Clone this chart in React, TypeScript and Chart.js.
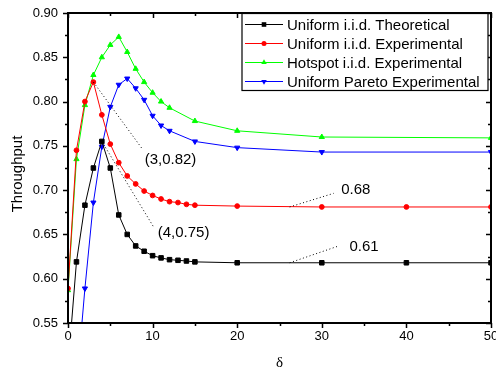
import React, { useEffect, useRef } from "react";
import { Chart, registerables } from "chart.js";

Chart.register(...registerables);

const SANS = "'Liberation Sans', Arial, Helvetica, sans-serif";
const SERIF = "'Liberation Serif', 'DejaVu Serif', serif";

// ---------- data ----------
const seriesNames = [
  "Uniform i.i.d. Theoretical",
  "Uniform i.i.d. Experimental",
  "Hotspot i.i.d. Experimental",
  "Uniform Pareto Experimental",
];
const seriesColors = ["#000000", "#ff0000", "#00ff00", "#0000ff"];
const seriesMarkers = ["square", "circle", "triangle", "invtriangle"];

const deltaFull = [0, 1, 2, 3, 4, 5, 6, 7, 8, 9, 10, 11, 12, 13, 14, 15, 20, 30, 40, 50];
const deltaShort = [0, 1, 2, 3, 4, 5, 6, 7, 8, 9, 10, 11, 12, 15, 20, 30, 50];

const uniformTheoretical = [0.5, 0.619, 0.683, 0.725, 0.755, 0.725, 0.672, 0.65, 0.637, 0.631, 0.626, 0.6235, 0.6215, 0.6208, 0.62, 0.619, 0.618, 0.618, 0.618, 0.618];
const uniformExperimental = [0.589, 0.745, 0.8, 0.822, 0.785, 0.752, 0.731, 0.716, 0.707, 0.699, 0.694, 0.69, 0.687, 0.686, 0.684, 0.683, 0.682, 0.681, 0.681, 0.681];
const hotspotExperimental = [0.587, 0.735, 0.796, 0.83, 0.85, 0.864, 0.873, 0.856, 0.837, 0.822, 0.81, 0.8, 0.793, 0.778, 0.767, 0.76, 0.759];
const paretoExperimental = [0.38, 0.478, 0.589, 0.686, 0.749, 0.794, 0.819, 0.826, 0.815, 0.802, 0.784, 0.773, 0.767, 0.755, 0.748, 0.743, 0.743];

const xTicks = [0, 10, 20, 30, 40, 50];
const yTicks = [0.55, 0.6, 0.65, 0.7, 0.75, 0.8, 0.85, 0.9];

// annotation callouts (data coordinates)
const calloutLabels = ["(3,0.82)", "(4,0.75)", "0.68", "0.61"];
const calloutFrom = [[3, 0.822], [4, 0.755], [26.2, 0.681], [26.2, 0.618]];
const calloutTo = [[8.8, 0.7463], [10.1, 0.6587], [31.4, 0.6964], [32.0, 0.637]];
const calloutText = [[9.06, 0.734], [10.6, 0.6516], [32.3, 0.7], [33.26, 0.6359]];

function drawMarker(ctx: CanvasRenderingContext2D, kind: string, x: number, y: number, color: string) {
  ctx.save();
  ctx.fillStyle = color;
  ctx.strokeStyle = color;
  ctx.lineWidth = 1;
  ctx.beginPath();
  if (kind === "square") {
    ctx.rect(x - 2.3, y - 2.3, 4.6, 4.6);
  } else if (kind === "circle") {
    ctx.arc(x, y, 2.5, 0, Math.PI * 2);
  } else if (kind === "triangle") {
    const r = 3.2;
    ctx.moveTo(x, y - r);
    ctx.lineTo(x + r * 0.866, y + r * 0.5);
    ctx.lineTo(x - r * 0.866, y + r * 0.5);
    ctx.closePath();
  } else {
    const r = 3.2;
    ctx.moveTo(x, y + r);
    ctx.lineTo(x + r * 0.866, y - r * 0.5);
    ctx.lineTo(x - r * 0.866, y - r * 0.5);
    ctx.closePath();
  }
  ctx.fill();
  ctx.restore();
}

const decorPlugin = {
  id: "decor",
  afterDatasetsDraw(chart: any) {
    const ctx: CanvasRenderingContext2D = chart.ctx;
    const { left, right, top, bottom } = chart.chartArea;
    const xs = chart.scales.x;
    const ys = chart.scales.y;
    ctx.save();

    // callouts
    ctx.strokeStyle = "#000";
    ctx.lineWidth = 1;
    ctx.setLineDash([1, 2.5]);
    for (let i = 0; i < calloutLabels.length; i++) {
      ctx.beginPath();
      ctx.moveTo(xs.getPixelForValue(calloutFrom[i][0]), ys.getPixelForValue(calloutFrom[i][1]));
      ctx.lineTo(xs.getPixelForValue(calloutTo[i][0]), ys.getPixelForValue(calloutTo[i][1]));
      ctx.stroke();
    }
    ctx.setLineDash([]);
    ctx.fillStyle = "#000";
    ctx.font = `15px ${SANS}`;
    ctx.textAlign = "left";
    ctx.textBaseline = "middle";
    for (let i = 0; i < calloutLabels.length; i++) {
      ctx.fillText(calloutLabels[i], xs.getPixelForValue(calloutText[i][0]), ys.getPixelForValue(calloutText[i][1]));
    }

    // ticks (major + minor)
    ctx.strokeStyle = "#000";
    ctx.lineWidth = 1.5;
    ctx.beginPath();
    for (let v = 0; v <= 50 + 1e-9; v += 5) {
      const major = Math.abs(v % 10) < 1e-9;
      const len = major ? 5 : 3;
      const px = Math.round(xs.getPixelForValue(v)) + 0.5;
      ctx.moveTo(px, bottom);
      ctx.lineTo(px, bottom + len);
      ctx.moveTo(px, top);
      ctx.lineTo(px, top + len);
    }
    for (let k = 0; k <= 14; k++) {
      const v = 0.55 + k * 0.025;
      const major = k % 2 === 0;
      const len = major ? 5 : 3;
      const py = Math.round(ys.getPixelForValue(v)) + 0.5;
      ctx.moveTo(left, py);
      ctx.lineTo(left - len, py);
      ctx.moveTo(right, py);
      ctx.lineTo(right - len, py);
    }
    ctx.stroke();

    // frame
    ctx.lineWidth = 2;
    ctx.strokeRect(left, top, right - left, bottom - top);

    // legend
    const bx = right - 249;
    const by = top + 0.5;
    const bw = 246;
    const bh = 77;
    ctx.fillStyle = "#fff";
    ctx.fillRect(bx, by, bw, bh);
    ctx.lineWidth = 1.2;
    ctx.strokeStyle = "#000";
    ctx.strokeRect(bx, by, bw, bh);
    ctx.font = `15px ${SANS}`;
    ctx.textAlign = "left";
    ctx.textBaseline = "middle";
    for (let i = 0; i < seriesNames.length; i++) {
      const ry = by + 11 + i * 19;
      ctx.strokeStyle = seriesColors[i];
      ctx.lineWidth = 1;
      ctx.beginPath();
      ctx.moveTo(bx + 3, ry);
      ctx.lineTo(bx + 41, ry);
      ctx.stroke();
      drawMarker(ctx, seriesMarkers[i], bx + 22, ry, seriesColors[i]);
      ctx.fillStyle = "#000";
      ctx.fillText(seriesNames[i], bx + 45, ry + 1);
    }

    // axis titles
    ctx.fillStyle = "#000";
    ctx.font = `15px ${SANS}`;
    ctx.save();
    ctx.translate(18, 174);
    ctx.rotate(-Math.PI / 2);
    ctx.textAlign = "center";
    ctx.textBaseline = "middle";
    ctx.fillText("Throughput", 0, 0);
    ctx.restore();
    ctx.font = `15px ${SERIF}`;
    ctx.textAlign = "center";
    ctx.textBaseline = "middle";
    ctx.fillText("δ", (left + right) / 2, 363);

    ctx.restore();
  },
};

function toPoints(xv: number[], yv: number[]) {
  return xv.map((x, i) => ({ x, y: yv[i] }));
}

function zeroPad(scale: any) {
  scale.paddingLeft = 0;
  scale.paddingRight = 0;
  scale.paddingTop = 0;
  scale.paddingBottom = 0;
}

export default function App() {
  const canvasRef = useRef<HTMLCanvasElement | null>(null);

  useEffect(() => {
    if (!canvasRef.current) return;
    const ds = (i: number, xv: number[], yv: number[], style: string, radius: number, rotation = 0) => ({
      label: seriesNames[i],
      data: toPoints(xv, yv),
      borderColor: seriesColors[i],
      backgroundColor: seriesColors[i],
      borderWidth: 1,
      pointStyle: style,
      pointRadius: radius,
      pointRotation: rotation,
      pointBorderWidth: 1,
      pointBackgroundColor: seriesColors[i],
      pointBorderColor: seriesColors[i],
      tension: 0,
    });
    const chart = new Chart(canvasRef.current, {
      type: "line",
      data: {
        datasets: [
          ds(0, deltaFull, uniformTheoretical, "rect", 3.2),
          ds(1, deltaFull, uniformExperimental, "circle", 2.4),
          ds(2, deltaShort, hotspotExperimental, "triangle", 3.0),
          ds(3, deltaShort, paretoExperimental, "triangle", 3.0, 180),
        ],
      } as any,
      options: {
        animation: false,
        responsive: false,
        devicePixelRatio: 1,
        layout: { padding: { top: 13, right: 5, left: 0, bottom: 0 } },
        plugins: {
          legend: { display: false },
          tooltip: { enabled: false },
          title: { display: false },
        },
        scales: {
          x: {
            type: "linear",
            min: 0,
            max: 50,
            grid: { display: false, drawTicks: false },
            border: { display: false },
            afterBuildTicks: (scale: any) => {
              scale.ticks = xTicks.map((v) => ({ value: v }));
            },
            afterFit: (scale: any) => {
              scale.height = 52;
              zeroPad(scale);
            },
            ticks: {
              padding: 6,
              color: "#000",
              font: { family: SANS, size: 13 },
              maxRotation: 0,
              callback: (v: any) => String(v),
            },
          },
          y: {
            type: "linear",
            min: 0.55,
            max: 0.9,
            grid: { display: false, drawTicks: false },
            border: { display: false },
            afterBuildTicks: (scale: any) => {
              scale.ticks = yTicks.map((v) => ({ value: v }));
            },
            afterFit: (scale: any) => {
              scale.width = 68;
              zeroPad(scale);
            },
            ticks: {
              padding: 10,
              color: "#000",
              font: { family: SANS, size: 13 },
              callback: (v: any) => Number(v).toFixed(2),
            },
          },
        },
      } as any,
      plugins: [decorPlugin],
    });
    return () => chart.destroy();
  }, []);

  return (
    <div style={{ position: "fixed", left: 0, top: 0, width: 496, height: 375, background: "#fff" }}>
      <canvas ref={canvasRef} width={496} height={375} style={{ display: "block" }} />
    </div>
  );
}
